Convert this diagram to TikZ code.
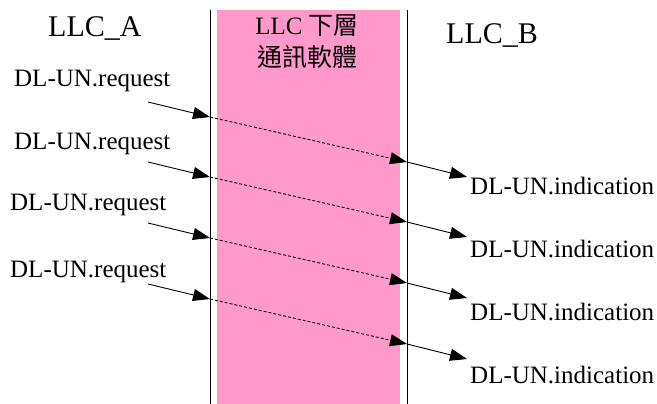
\documentclass[tikz,border=0pt]{standalone}
\usepackage{fontspec}
\setmainfont{Liberation Serif}
\newfontfamily\cjk{Noto Sans CJK TC}
\usetikzlibrary{arrows.meta}
\definecolor{layerpink}{RGB}{255,153,204}
\tikzstyle{entity}=[inner sep=0pt,anchor=base west,font=\fontsize{30}{36}\selectfont]
\tikzstyle{prim}=[inner sep=0pt,anchor=base west,font=\fontsize{25}{30}\selectfont]
\tikzstyle{edge} = [draw,line width=0.9pt,-{Triangle[length=17pt,width=12pt]}]
\tikzstyle{relay} = [edge,dash pattern=on 3pt off 2pt]
\tikzstyle{boundary} = [draw,line width=0.8pt]

\begin{document}
\begin{tikzpicture}[x=1pt,y=1pt]
    \useasboundingbox (0,0) rectangle (657,-404);

    % lower layer band and the two borders
    \fill[layerpink] (217,-10) rectangle (400,-404);
    \coordinate (Atop) at (210,-10);
    \coordinate (Abot) at (210,-404);
    \coordinate (Btop) at (407,-10);
    \coordinate (Bbot) at (407,-404);
    \path[boundary] (Atop) -- (Abot);
    \path[boundary] (Btop) -- (Bbot);

    % headers
    \node[entity] (llcA) at (48,-36.7) {LLC\_A};
    \node[entity] (llcB) at (446,-43.3) {LLC\_B};
    \node[prim,anchor=base] (mid1) at (307,-35) {LLC \cjk 下層};
    \node[prim,anchor=base] (mid2) at (307,-67) {\cjk 通訊軟體};

    % primitives: request on A, indication on B
    \foreach \i/\rx/\ry/\iy/\ya in {1/14/87/194/102, 2/14/149.5/257/162, 3/10/211/320/223, 4/10/277.5/383/284}
    {
        \node[prim] (req\i) at (\rx,-\ry) {DL-UN.request};
        \node[prim] (ind\i) at (470,-\iy) {DL-UN.indication};
        \coordinate (src\i) at (148,-\ya);
        \coordinate (inA\i) at (210,{-\ya-15});
        \coordinate (inB\i) at (407,{-\ya-60});
        \coordinate (tip\i) at (467,{-\ya-75});
        \path[edge] (src\i) -- (inA\i);
        \path[relay] (inA\i) -- (inB\i);
        \path[edge] (inB\i) -- (tip\i);
    }
\end{tikzpicture}
\end{document}
